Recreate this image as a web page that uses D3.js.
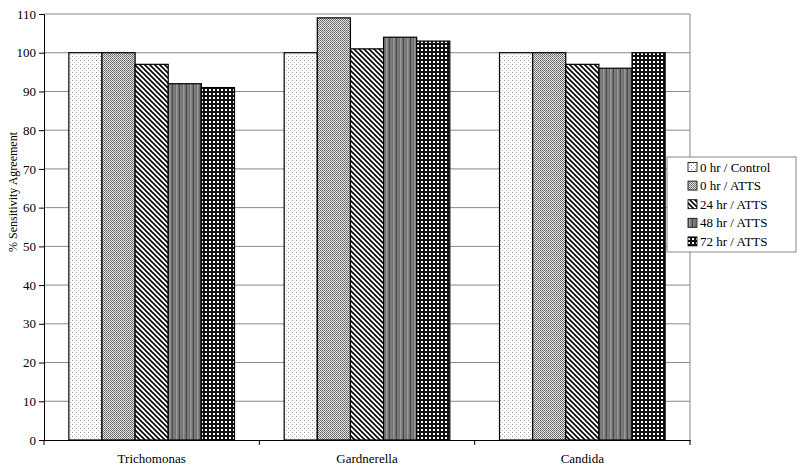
<!DOCTYPE html>
<html><head><meta charset="utf-8">
<script src="https://cdn.jsdelivr.net/npm/d3@7"></script>
<style>body{margin:0;background:#fff}svg{display:block}text{font-family:"Liberation Serif","Times New Roman",serif;fill:#000}</style>
</head><body><svg id="c" width="800" height="472"></svg>
<script>
const categories = ["Trichomonas", "Gardnerella", "Candida"];
const seriesNames = ["0 hr / Control", "0 hr / ATTS", "24 hr / ATTS", "48 hr / ATTS", "72 hr / ATTS"];
const control0 = [100, 100, 100];
const atts0 = [100, 109, 100];
const atts24 = [97, 101, 97];
const atts48 = [92, 104, 96];
const atts72 = [91, 103, 100];
const seriesValues = [control0, atts0, atts24, atts48, atts72];
const yTicks = [0,10,20,30,40,50,60,70,80,90,100,110];

const svg = d3.select("#c");
const m = {l:44, r:690, t:14, b:440};
const x = d3.scaleBand().domain(categories).range([m.l, m.r]).paddingInner(0).paddingOuter(0);
const xs = d3.scaleBand().domain(d3.range(5)).range([0, x.bandwidth()]).paddingInner(0).paddingOuter(0.75);
const y = d3.scaleLinear().domain([0,110]).range([m.b, m.t]);

// patterns
const defs = svg.append("defs");
function pat(id, w, h){ return defs.append("pattern").attr("id",id).attr("patternUnits","userSpaceOnUse").attr("width",w).attr("height",h); }
let p = pat("p0",4,4);
p.append("rect").attr("width",4).attr("height",4).attr("fill","#fff");
p.append("rect").attr("x",0).attr("y",0).attr("width",1).attr("height",1).attr("fill","#999");
p.append("rect").attr("x",2).attr("y",2).attr("width",1).attr("height",1).attr("fill","#bbb");
p = pat("p1",2,2);
p.append("rect").attr("width",2).attr("height",2).attr("fill","#e4e4e4");
p.append("rect").attr("x",0).attr("y",0).attr("width",1).attr("height",1).attr("fill","#666");
p.append("rect").attr("x",1).attr("y",1).attr("width",1).attr("height",1).attr("fill","#777");
p = pat("p2",5,5);
p.append("rect").attr("width",5).attr("height",5).attr("fill","#fff");
p.append("path").attr("d","M-1,-1L6,6M-1,4L1,6M4,-1L6,1").attr("stroke","#000").attr("stroke-width",1.6);
p = pat("p3",7,7);
p.append("rect").attr("width",7).attr("height",7).attr("fill","#707070");
p.append("rect").attr("x",1).attr("width",1.5).attr("height",7).attr("fill","#9a9a9a");
p.append("rect").attr("x",4).attr("width",1).attr("height",7).attr("fill","#4a4a4a");
p.append("rect").attr("x",5.5).attr("width",1).attr("height",7).attr("fill","#888");
p = pat("p4",4,4);
p.append("rect").attr("width",4).attr("height",4).attr("fill","#111");
p.append("rect").attr("x",1).attr("y",1).attr("width",2).attr("height",2).attr("fill","#fff");

// gridlines
svg.append("g").selectAll("line").data(yTicks.filter(d=>d>0)).join("line")
  .attr("x1",m.l).attr("x2",m.r).attr("y1",d=>y(d)).attr("y2",d=>y(d))
  .attr("stroke","#888").attr("stroke-width",1);
svg.append("line").attr("x1",m.r).attr("x2",m.r).attr("y1",m.t).attr("y2",m.b).attr("stroke","#888");

// bars
categories.forEach((c,ci)=>{
  seriesValues.forEach((vals,si)=>{
    svg.append("rect")
      .attr("x", x(c)+xs(si)).attr("y", y(vals[ci]))
      .attr("width", xs.bandwidth()).attr("height", y(0)-y(vals[ci]))
      .attr("fill","url(#p"+si+")").attr("stroke","#000").attr("stroke-width",1.2);
  });
});

// axes
const ya = d3.axisLeft(y).tickValues(yTicks).tickSize(5).tickPadding(3);
const gy = svg.append("g").attr("transform",`translate(${m.l},0)`).call(ya);
gy.select(".domain").attr("stroke","#000");
gy.selectAll(".tick line").attr("stroke","#000");
gy.selectAll("text").style("font-size","13px").style("font-family","Liberation Serif");
const xa = d3.axisBottom(x).tickSize(0).tickPadding(14);
const gx = svg.append("g").attr("transform",`translate(0,${m.b})`).call(xa);
gx.select(".domain").attr("stroke","#000");
gx.selectAll("text").style("font-size","13px").style("font-family","Liberation Serif");
// category boundary ticks
svg.append("g").selectAll("line").data([0,1,2,3]).join("line")
  .attr("x1",i=>m.l+i*x.bandwidth()).attr("x2",i=>m.l+i*x.bandwidth())
  .attr("y1",m.b).attr("y2",m.b+5).attr("stroke","#000");

svg.append("text").attr("transform",`translate(17,192) rotate(-90)`)
  .attr("text-anchor","middle").style("font-size","12px").text("% Sensitivity Agreement");

// legend
const lg = svg.append("g").attr("transform","translate(667,157)");
lg.append("rect").attr("width",129).attr("height",95).attr("fill","#fff").attr("stroke","#888");
seriesNames.forEach((n,i)=>{
  const yy = 10 + i*18.6;
  lg.append("rect").attr("x",21).attr("y",yy-4.5).attr("width",9).attr("height",9)
    .attr("fill","url(#p"+i+")").attr("stroke","#000").attr("stroke-width",0.8);
  lg.append("text").attr("x",33).attr("y",yy+4.5).style("font-size","13px").text(n);
});
</script></body></html>
